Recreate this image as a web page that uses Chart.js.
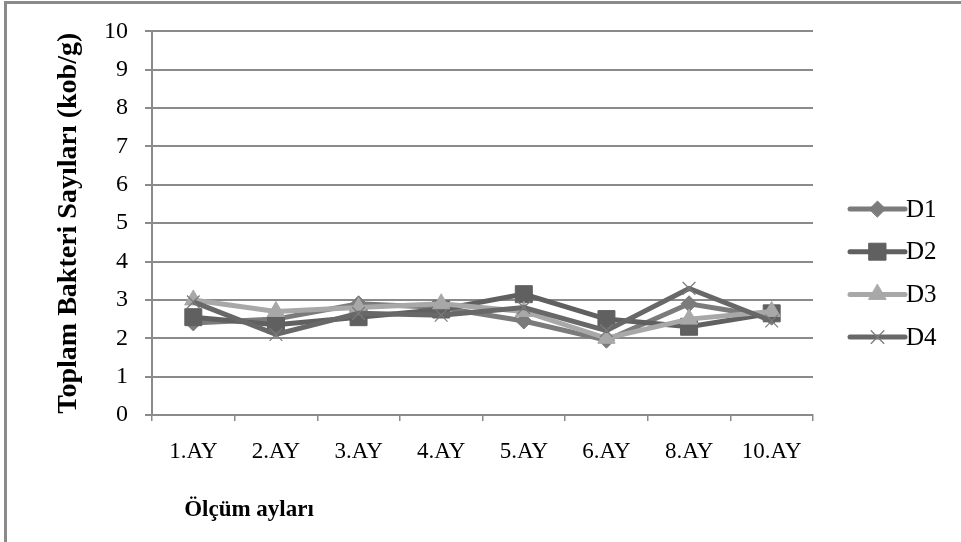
<!DOCTYPE html>
<html>
<head>
<meta charset="utf-8">
<script src="https://cdn.jsdelivr.net/npm/chart.js@4/dist/chart.umd.min.js"></script>
<style>
  html, body { margin: 0; padding: 0; background: #fff; }
  #wrap { width: 961px; height: 542px; position: relative; }
</style>
</head>
<body>
<div id="wrap"><canvas id="c" width="961" height="542"></canvas></div>
<script>
// Months of measurement
const months = ['1.AY', '2.AY', '3.AY', '4.AY', '5.AY', '6.AY', '8.AY', '10.AY'];

// Total bacteria counts (kob/g) per sample group
const d1 = [2.4, 2.5, 2.9, 2.8, 2.45, 1.95, 2.9, 2.55];
const d2 = [2.55, 2.35, 2.55, 2.75, 3.15, 2.5, 2.3, 2.65];
const d3 = [3.0, 2.7, 2.8, 2.9, 2.7, 2.0, 2.5, 2.7];
const d4 = [2.95, 2.1, 2.65, 2.6, 2.8, 2.2, 3.3, 2.45];

const yTicks = [0, 1, 2, 3, 4, 5, 6, 7, 8, 9, 10];

const yTitle = 'Toplam Bakteri Sayıları (kob/g)';
const xTitle = 'Ölçüm ayları';

const SERIF = '"Liberation Serif", "Times New Roman", serif';
const GRID = '#8a8a8a';

function series(label, data, line, marker, style, radius, order, extra) {
  return Object.assign({
    label, data,
    borderColor: line,
    borderWidth: 5,
    pointStyle: style,
    pointRadius: radius,
    pointHoverRadius: radius,
    pointBackgroundColor: marker,
    pointBorderColor: marker,
    pointBorderWidth: 1,
    tension: 0,
    order
  }, extra || {});
}

const datasets = [
  series('D1', d1, '#7b7b7b', '#7b7b7b', 'rectRot', 8, 4),
  series('D2', d2, '#606060', '#606060', 'rect', 12, 3),
  series('D3', d3, '#a8a8a8', '#a8a8a8', 'triangle', 10, 2),
  series('D4', d4, '#686868', '#7a7a7a', 'crossRot', 9, 1, { pointBorderWidth: 1.2 })
];

// Outer frame, x-axis title and the line+marker legend on the right
const decorations = {
  id: 'decorations',
  afterDraw(chart) {
    const ctx = chart.ctx;
    const area = chart.chartArea;
    ctx.save();
    ctx.strokeStyle = '#8a8a8a';
    ctx.lineWidth = 3;
    ctx.strokeRect(5.5, 2.5, 970, 560);

    ctx.fillStyle = '#000';
    ctx.font = 'bold 23px ' + SERIF;
    ctx.textAlign = 'center';
    ctx.textBaseline = 'middle';
    ctx.fillText(xTitle, area.left + 97, 510);

    // legend
    const x0 = 850, x1 = 905, rowTop = 209, rowGap = 42.7;
    chart.data.datasets.forEach((ds, i) => {
      const y = rowTop + i * rowGap;
      ctx.strokeStyle = ds.borderColor;
      ctx.lineWidth = 5;
      ctx.lineCap = 'round';
      ctx.beginPath();
      ctx.moveTo(x0, y);
      ctx.lineTo(x1, y);
      ctx.stroke();
      ctx.fillStyle = ds.pointBackgroundColor;
      ctx.strokeStyle = ds.pointBorderColor;
      ctx.lineWidth = ds.pointBorderWidth;
      Chart.helpers.drawPoint(ctx, { pointStyle: ds.pointStyle, radius: ds.pointRadius, borderWidth: ds.pointBorderWidth }, (x0 + x1) / 2, y);
      ctx.fillStyle = '#000';
      ctx.font = '25px ' + SERIF;
      ctx.textAlign = 'left';
      ctx.textBaseline = 'middle';
      ctx.fillText(ds.label, 906, y + 1);
    });
    ctx.restore();
  }
};

new Chart(document.getElementById('c'), {
  type: 'line',
  data: { labels: months, datasets },
  plugins: [decorations],
  options: {
    responsive: false,
    animation: false,
    layout: { padding: { left: 0, right: 148, top: 30, bottom: 0 } },
    plugins: {
      legend: { display: false },
      tooltip: { enabled: false }
    },
    scales: {
      x: {
        offset: true,
        grid: {
          offset: true,
          drawOnChartArea: false,
          drawTicks: true,
          tickLength: 6,
          color: GRID,
          lineWidth: 1.5
        },
        border: { color: GRID, width: 2 },
        ticks: {
          color: '#000',
          font: { family: SERIF, size: 23 },
          padding: 17,
          maxRotation: 0,
          autoSkip: false
        },
        afterFit(scale) { scale.height = 127; }
      },
      y: {
        min: 0,
        max: 10,
        afterBuildTicks(scale) { scale.ticks = yTicks.map(v => ({ value: v })); },
        grid: {
          color: GRID,
          lineWidth: 2,
          tickLength: 7,
          drawTicks: true
        },
        border: { color: GRID, width: 2 },
        ticks: {
          color: '#000',
          font: { family: SERIF, size: 24 },
          padding: 17
        },
        title: {
          display: true,
          text: yTitle,
          color: '#000',
          font: { family: SERIF, size: 28, weight: 'bold' },
          padding: { top: 52, bottom: 0 }
        },
        afterFit(scale) { scale.width = 152; }
      }
    }
  }
});
</script>
</body>
</html>
